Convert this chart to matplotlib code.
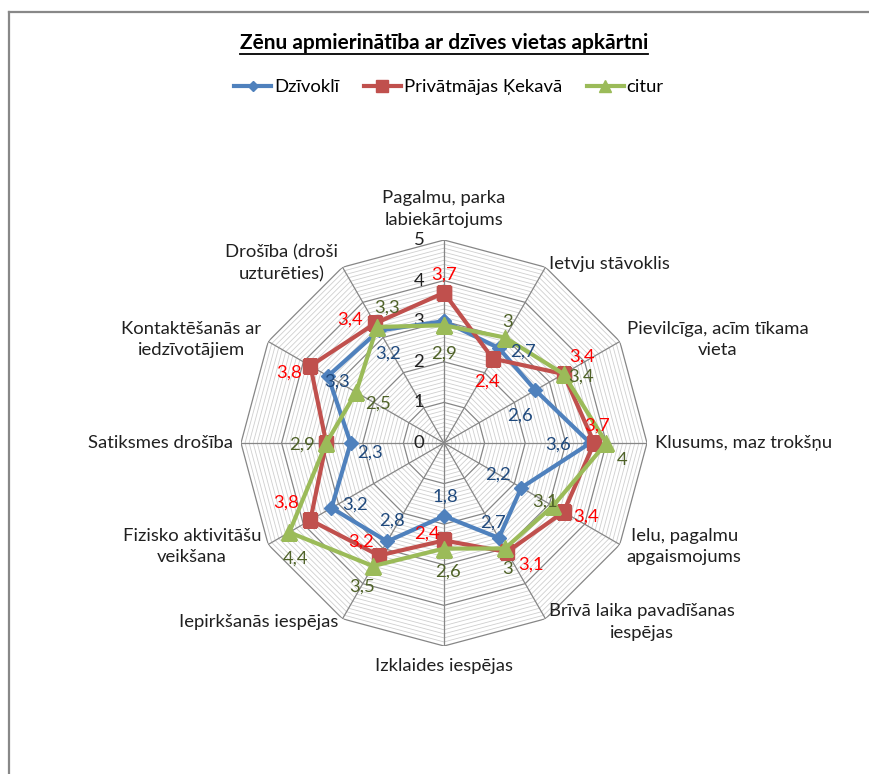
import numpy as np
import matplotlib
matplotlib.use("Agg")
import matplotlib.pyplot as plt
from matplotlib.lines import Line2D

plt.rcParams['font.family'] = ['Lato', 'DejaVu Sans']

# Kategorijas (pulksteņrādītāja virzienā no augšas)
categories = [
    "Pagalmu, parka\nlabiekārtojums",
    "Ietvju stāvoklis",
    "Pievilcīga, acīm tīkama\nvieta",
    "Klusums, maz trokšņu",
    "Ielu, pagalmu\napgaismojums",
    "Brīvā laika pavadīšanas\niespējas",
    "Izklaides iespējas",
    "Iepirkšanās iespējas",
    "Fizisko aktivitāšu\nveikšana",
    "Satiksmes drošība",
    "Kontaktēšanās ar\niedzīvotājiem",
    "Drošība (droši\nuzturēties)",
]

series_names = ["Dzīvoklī", "Privātmājas Ķekavā", "citur"]
dzivokli = [3, 2.7, 2.6, 3.6, 2.2, 2.7, 1.8, 2.8, 3.2, 2.3, 3.3, 3.2]
privatmajas = [3.7, 2.4, 3.4, 3.7, 3.4, 3.1, 2.4, 3.2, 3.8, 2.9, 3.8, 3.4]
citur = [2.9, 3, 3.4, 4, 3.1, 3, 2.6, 3.5, 4.4, 2.9, 2.5, 3.3]

# vērtību uzrakstu nobīdes pikseļos (None = uzraksts netiek rādīts)
offs_blue = [None, (24, -4), (-15, -25), (-32, -2), (-23, 13), (-6, 15),
             (1, 19), (5, 21), (24, 3), (19, -10), (9, -6), (9, -23)]
offs_red = [(0, 18), (-6, -23), (19, 17), (3, 17), (23, -5), (24, -13),
            (-17, 7), (-18, 14), (-24, 18), None, (-21, -7), (-25, 4)]
offs_green = [(0, -28), (3, 16), (18, -3), (16, -17), (-8, 4), (3, -21),
              (4, -23), (-11, -21), (6, -26), (-24, -2), (22, -11), (10, 19)]

W, H = 870, 774
FS = 13.3
fig = plt.figure(figsize=(W / 100, H / 100), dpi=100)

cx, cy, R = 444, 443, 203
ax = fig.add_axes([(cx - R) / W, (H - cy - R) / H, 2 * R / W, 2 * R / H],
                  projection='polar')
ax.set_theta_zero_location('N')
ax.set_theta_direction(-1)
ax.set_ylim(0, 5)
ax.grid(False)
ax.spines['polar'].set_visible(False)
ax.set_xticks([])
ax.set_yticks([])
ax.patch.set_alpha(0)

n = len(categories)
theta = np.arange(n) * 2 * np.pi / n
theta_closed = np.append(theta, theta[0])

# režģis: daudzstūri ik pa 0,1 un galvenie ik pa 1
for r in np.arange(0.1, 5.001, 0.1):
    major = abs(r - round(r)) < 1e-6
    ax.plot(theta_closed, [r] * (n + 1),
            color='#868686' if major else '#cfcfcf',
            lw=0.9 if major else 0.6, zorder=1)
for t in theta:
    ax.plot([t, t], [0, 5], color='#868686', lw=0.9, zorder=1)

# ass skaitļi
for r in range(6):
    ax.annotate(str(r), xy=(0, r), xytext=(-25, 0), textcoords='offset pixels',
                ha='center', va='center', fontsize=FS, color='#202020')

# kategoriju nosaukumi
for t, lab in zip(theta, categories):
    s, c = np.sin(t), np.cos(t)
    if s > 0.1:
        ha = 'left'
    elif s < -0.1:
        ha = 'right'
    else:
        ha = 'center'
    if c > 0.9:
        va = 'bottom'
    elif c < -0.9:
        va = 'top'
    else:
        va = 'center'
    dx = 8 * s
    dy = 12 * c if abs(c) > 0.9 else 4 * c
    ax.annotate(lab, xy=(t, 5), xytext=(dx, dy), textcoords='offset pixels',
                ha=ha, va=va, multialignment='center', fontsize=FS,
                color='#202020', linespacing=1.45)

styles = [
    (dzivokli, '#4F81BD', 'D', 7, '#1F497D', offs_blue),
    (privatmajas, '#C0504D', 's', 10, '#FF0000', offs_red),
    (citur, '#9BBB59', '^', 11, '#4F6228', offs_green),
]

handles = []
for (vals, col, mk, ms, lcol, offs), name in zip(styles, series_names):
    v = np.append(vals, vals[0])
    ln, = ax.plot(theta_closed, v, color=col, lw=3, marker=mk, ms=ms,
                  markeredgecolor=col, zorder=3, label=name)
    handles.append(ln)
    for t, val, o in zip(theta, vals, offs):
        if o is None:
            continue
        txt = f"{val:g}".replace('.', ',')
        ax.annotate(txt, xy=(t, val), xytext=o, textcoords='offset pixels',
                    ha='center', va='center', fontsize=FS, color=lcol,
                    zorder=4)

leg = fig.legend(handles=handles, loc='center', bbox_to_anchor=(449 / W, 1 - 87 / H),
                 ncol=3, frameon=False, fontsize=FS, handlelength=2.0,
                 handletextpad=0.15, columnspacing=1.35, borderaxespad=0,
                 markerscale=0.8)

title = fig.text(cx / W, 1 - 43 / H, "Zēnu apmierinātība ar dzīves vietas apkārtni",
                 ha='center', va='center', fontsize=15, fontweight='bold')

# pasvītrojums zem virsraksta
fig.canvas.draw()
bb = title.get_window_extent()
fig.add_artist(Line2D([bb.x0 / W, bb.x1 / W], [(bb.y0 - 1) / H] * 2,
                      color='black', lw=1.3, transform=fig.transFigure))

# diagrammas rāmis
frame_col = '#888888'
fig.add_artist(Line2D([9 / W, 9 / W], [0, 1 - 12 / H], color=frame_col, lw=1.6,
                      transform=fig.transFigure))
fig.add_artist(Line2D([9 / W, 1], [1 - 12 / H] * 2, color=frame_col, lw=1.6,
                      transform=fig.transFigure))

fig.savefig("out.png", dpi=100)
